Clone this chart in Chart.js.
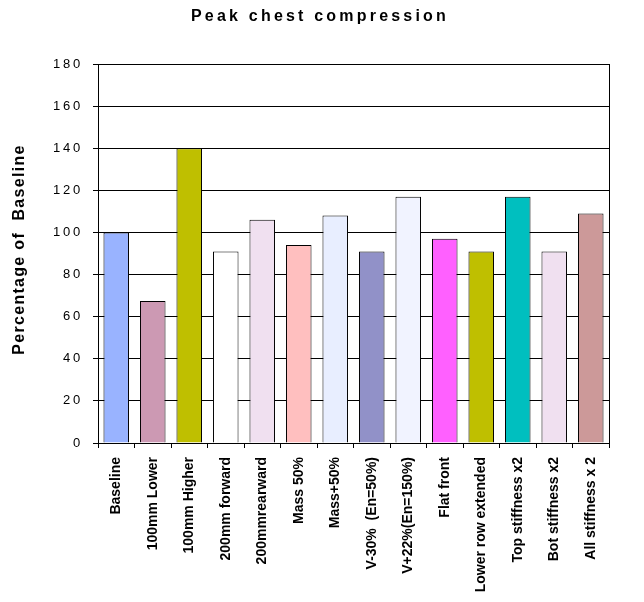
<!DOCTYPE html>
<html>
<head>
<meta charset="utf-8">
<script src="https://cdn.jsdelivr.net/npm/chart.js@4"></script>
<style>
html,body{margin:0;padding:0;background:#fff;}
#wrap{width:644px;height:602px;position:relative;}
</style>
</head>
<body>
<div id="wrap"><canvas id="c" width="644" height="602"></canvas></div>
<script>
const chartTitle = "Peak chest compression";
const yAxisTitle = "Percentage of  Baseline";
const categories = ["Baseline","100mm Lower","100mm Higher","200mm forward","200mmrearward","Mass 50%","Mass+50%","V-30%  (En=50%)","V+22%(En=150%)","Flat front","Lower row extended","Top stiffness x2","Bot stiffness x2","All stiffness x 2"];
const values = [100, 67.5, 140, 91, 106, 94, 108, 91, 117, 97, 91, 117, 91, 109];
const barColors = ["#99B3FF","#CC99B3","#BFBF00","#FFFFFF","#F0E0F0","#FFBFBF","#E8EEFF","#9191C8","#F1F3FF","#FF60FF","#BFBF00","#00BFBF","#F0E0F0","#CC9999"];
const yMin = 0, yMax = 180, yStep = 20;

const FONT = "'Liberation Sans', Arial, sans-serif";

const borderPlugin = {
  id: 'areaBorder',
  afterDraw(chart) {
    const {ctx, chartArea: a} = chart;
    ctx.save();
    ctx.strokeStyle = '#000';
    ctx.lineWidth = 1;
    ctx.strokeRect(Math.round(a.left) + 0.5, Math.round(a.top) + 0.5, Math.round(a.right - a.left), Math.round(a.bottom - a.top));
    ctx.restore();
  }
};
const titlePlugin = {
  id: 'spacedTitle',
  afterDraw(chart) {
    const ctx = chart.ctx;
    ctx.save();
    ctx.font = "bold 16px " + FONT;
    ctx.fillStyle = '#000';
    ctx.textAlign = 'left';
    ctx.textBaseline = 'alphabetic';
    try { ctx.letterSpacing = '3.2px'; } catch (e) {}
    ctx.fillText(chartTitle, 191, 20.5);
    ctx.restore();
  }
};
const spacingPlugin = {
  id: 'yScaleSpacing',
  beforeDraw(chart) {
    const s = chart.scales.y;
    if (!s || s._spacedWrapped) return;
    const ctx = chart.ctx;
    const origLabels = s.drawLabels.bind(s);
    const origTitle = s.drawTitle.bind(s);
    s.drawLabels = function (ca) {
      ctx.save();
      try { ctx.letterSpacing = '2.8px'; } catch (e) {}
      origLabels(ca);
      ctx.restore();
    };
    s.drawTitle = function () {
      ctx.save();
      try { ctx.letterSpacing = '1.3px'; } catch (e) {}
      ctx.translate(0, -4);
      origTitle();
      ctx.restore();
    };
    s._spacedWrapped = true;
  }
};

new Chart(document.getElementById('c'), {
  type: 'bar',
  data: {
    labels: categories,
    datasets: [{
      data: values,
      backgroundColor: barColors,
      borderColor: '#000',
      borderWidth: 1,
      barPercentage: 0.7,
      categoryPercentage: 1.0
    }]
  },
  options: {
    responsive: false,
    animation: false,
    devicePixelRatio: 1,
    layout: { padding: { top: 64, right: 35, left: 0, bottom: 0 } },
    plugins: { legend: { display: false }, title: { display: false }, tooltip: { enabled: false } },
    scales: {
      x: {
        offset: true,
        grid: { display: true, drawOnChartArea: false, drawTicks: true, tickLength: 5, color: '#000', offset: true },
        border: { display: true, color: '#000' },
        ticks: {
          color: '#000', maxRotation: 90, minRotation: 90, autoSkip: false, padding: 9,
          font: { family: FONT, size: 14, weight: 'bold' }
        },
        afterFit(s) { s.height = 159; }
      },
      y: {
        min: yMin, max: yMax,
        grid: { color: '#000', lineWidth: 1, drawTicks: true, tickLength: 5 },
        border: { display: true, color: '#000' },
        ticks: { stepSize: yStep, color: '#000', padding: 10, font: { family: FONT, size: 13 } },
        title: { display: true, text: yAxisTitle, color: '#000', padding: { top: 10, bottom: 0 }, font: { family: FONT, size: 16, weight: 'bold' } },
        afterFit(s) { s.width = 98; }
      }
    }
  },
  plugins: [spacingPlugin, borderPlugin, titlePlugin]
});
</script>
</body>
</html>
